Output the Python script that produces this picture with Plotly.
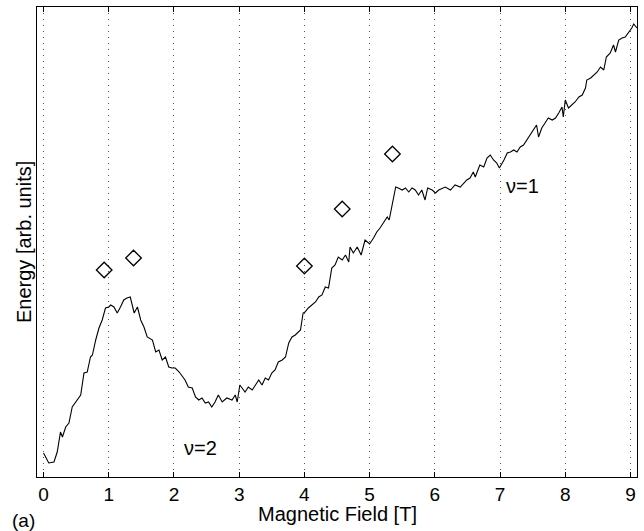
import plotly.graph_objects as go

# Magnetic field [T] of the measured trace
field = [0.00, 0.08, 0.16, 0.21, 0.26, 0.29, 0.34, 0.39, 0.44, 0.52, 0.57, 0.62, 0.67, 0.72, 0.75, 0.80, 0.85, 0.90, 0.95, 1.00,
         1.03, 1.08, 1.13, 1.18, 1.23, 1.28, 1.33, 1.39, 1.44, 1.49, 1.54, 1.59, 1.67, 1.72, 1.77, 1.82, 1.87, 1.92, 1.97, 2.02,
         2.08, 2.17, 2.22, 2.28, 2.33, 2.38, 2.43, 2.48, 2.53, 2.58, 2.63, 2.68, 2.74, 2.81, 2.89, 2.94, 2.97, 3.01, 3.04, 3.09,
         3.14, 3.20, 3.25, 3.30, 3.35, 3.40, 3.45, 3.50, 3.55, 3.60, 3.66, 3.71, 3.76, 3.81, 3.86, 3.91, 3.94, 3.98, 4.01, 4.06,
         4.12, 4.17, 4.22, 4.27, 4.32, 4.37, 4.42, 4.47, 4.52, 4.58, 4.63, 4.68, 4.70, 4.75, 4.81, 4.87, 4.93, 5.00, 5.06, 5.11,
         5.16, 5.21, 5.27, 5.30, 5.33, 5.37, 5.40, 5.44, 5.50, 5.55, 5.60, 5.65, 5.70, 5.75, 5.80, 5.85, 5.89, 5.96, 6.01, 6.06,
         6.16, 6.24, 6.31, 6.39, 6.44, 6.49, 6.54, 6.59, 6.62, 6.69, 6.75, 6.80, 6.85, 6.90, 6.95, 6.99, 7.06, 7.11, 7.16, 7.21,
         7.26, 7.31, 7.36, 7.41, 7.46, 7.51, 7.56, 7.59, 7.64, 7.69, 7.74, 7.80, 7.85, 7.90, 7.95, 7.97, 8.00, 8.05, 8.10, 8.15,
         8.21, 8.26, 8.31, 8.33, 8.39, 8.44, 8.49, 8.54, 8.59, 8.63, 8.69, 8.74, 8.77, 8.82, 8.87, 8.92, 8.97, 9.02, 9.05, 9.10]

# Energy [arb. units] of the measured trace
energy = [2.4, 1.4, 1.5, 2.5, 4.5, 4.0, 5.0, 5.4, 7.0, 7.7, 8.2, 10.4, 10.5, 12.0, 12.2, 13.7, 14.9, 15.7, 16.9, 17.0,
          17.2, 17.0, 16.4, 17.0, 17.7, 17.9, 18.0, 16.4, 17.0, 15.7, 15.0, 14.0, 13.7, 12.5, 12.7, 11.7, 12.0, 11.0, 10.9, 10.9,
          10.5, 9.7, 9.0, 8.9, 8.0, 7.7, 7.9, 7.4, 7.5, 7.0, 7.5, 8.2, 7.5, 7.9, 7.7, 8.2, 7.5, 9.2, 8.9, 8.5,
          9.0, 8.7, 9.2, 9.7, 9.2, 9.9, 9.7, 10.4, 10.7, 11.5, 11.7, 12.0, 13.4, 14.0, 14.2, 14.5, 14.7, 16.4, 16.5, 16.9,
          17.2, 17.5, 18.0, 18.2, 19.0, 18.9, 20.9, 21.2, 22.0, 21.7, 22.2, 21.5, 23.0, 22.4, 23.0, 22.2, 23.7, 23.3, 23.9, 24.5,
          24.9, 25.4, 26.0, 25.7, 26.7, 27.7, 29.0, 28.9, 28.7, 28.9, 28.5, 28.9, 28.7, 28.2, 28.7, 27.7, 28.9, 28.7, 28.4, 28.7,
          29.0, 28.7, 29.2, 29.0, 29.4, 29.7, 29.9, 30.5, 30.0, 31.2, 31.0, 31.9, 32.2, 31.7, 31.4, 30.9, 31.7, 32.4, 32.5, 32.7,
          32.5, 33.0, 33.2, 33.7, 34.2, 34.7, 35.2, 34.0, 34.9, 35.4, 35.9, 35.7, 35.9, 36.4, 37.0, 36.0, 37.7, 36.9, 37.2, 37.5,
          38.0, 38.2, 38.9, 39.7, 39.9, 40.2, 40.5, 41.0, 40.7, 42.0, 42.4, 43.2, 42.5, 43.7, 43.9, 44.0, 44.4, 44.9, 45.3, 44.9]

# Diamond markers
diamond_field = [0.93, 1.38, 4.00, 4.58, 5.35]
diamond_energy = [20.7, 21.9, 21.1, 26.8, 32.3]

x_ticks = [0, 1, 2, 3, 4, 5, 6, 7, 8, 9]
x_tick_labels = ["0", "1", "2", "3", "4", "5", "6", "7", "8", "9"]

FONT = "Liberation Sans, Arial, Helvetica, sans-serif"

fig = go.Figure()
fig.add_trace(go.Scatter(x=field, y=energy, mode="lines",
                         line=dict(color="black", width=1.1), showlegend=False))
fig.add_trace(go.Scatter(x=diamond_field, y=diamond_energy, mode="markers",
                         marker=dict(symbol="diamond-open", size=12, color="black",
                                     line=dict(width=1.3, color="black")),
                         showlegend=False))

fig.update_layout(
    width=644, height=531,
    margin=dict(l=37, r=7, t=7, b=54),
    paper_bgcolor="white", plot_bgcolor="white",
    font=dict(family=FONT, color="black", size=19),
    xaxis=dict(range=[-0.1, 9.1], tickvals=x_ticks, ticktext=x_tick_labels,
               ticks="inside", ticklen=5, tickcolor="black", tickwidth=1,
               showline=True, linecolor="black", linewidth=1, mirror="ticks",
               showgrid=True, gridcolor="#555555", gridwidth=1, griddash="1px,5px",
               zeroline=False, tickfont=dict(size=19, family=FONT)),
    yaxis=dict(range=[0, 47], showticklabels=False, ticks="",
               showline=True, linecolor="black", linewidth=1, mirror=True,
               showgrid=False, zeroline=False),
    annotations=[
        dict(text="Magnetic Field [T]", xref="paper", yref="paper", x=0.5, y=0,
             xanchor="center", yanchor="middle", yshift=-37, showarrow=False,
             font=dict(size=20, family=FONT)),
        dict(text="Energy [arb. units]", xref="paper", yref="paper", x=0, y=0.5,
             xanchor="center", yanchor="middle", xshift=-13, textangle=-90, showarrow=False,
             font=dict(size=20, family=FONT)),
        dict(text="(a)", xref="paper", yref="paper", x=0, y=0,
             xanchor="center", yanchor="middle", xshift=-14, yshift=-43, showarrow=False,
             font=dict(size=19, family=FONT)),
        dict(text="ν=2", xref="x", yref="y", x=2.40, y=2.9,
             xanchor="center", yanchor="middle", showarrow=False,
             font=dict(size=20, family=FONT)),
        dict(text="ν=1", xref="x", yref="y", x=7.35, y=29.1,
             xanchor="center", yanchor="middle", showarrow=False,
             font=dict(size=20, family=FONT)),
    ],
)

fig.write_html("out.html", config={"displayModeBar": False},
               post_script="document.body.style.margin='0px';")
